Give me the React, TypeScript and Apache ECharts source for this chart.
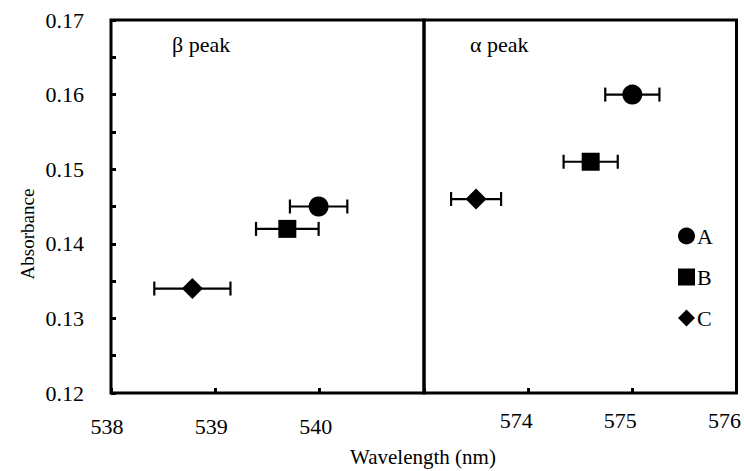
import React, { useEffect, useRef } from "react";
import * as echarts from "echarts";

const seriesNames = ["A", "B", "C"];
const seriesSymbols = ["circle", "rect", "diamond"];
const symbolSizes = [20, 18, 21];

const betaWavelength = [539.99, 539.69, 538.78];
const betaAbsorbance = [0.145, 0.142, 0.134];
const betaError = [0.275, 0.3, 0.365];

const alphaWavelength = [575.0, 574.6, 573.5];
const alphaAbsorbance = [0.16, 0.151, 0.146];
const alphaError = [0.26, 0.26, 0.24];

const leftTicks = [538, 539, 540];
const rightTicks = [574, 575, 576];

const FONT = "Liberation Serif";

export default function App() {
  const ref = useRef<HTMLDivElement>(null);

  useEffect(() => {
    document.body.style.margin = "0";
    document.body.style.overflow = "hidden";
    document.documentElement.style.overflow = "hidden";
    const chart = echarts.init(ref.current!, null, { renderer: "svg" });

    const errRender = (params: any, api: any) => {
      const x = api.value(0);
      const y = api.value(1);
      const e = api.value(2);
      const p1 = api.coord([x - e, y]);
      const p2 = api.coord([x + e, y]);
      const h = 7;
      const style = { stroke: "#000", lineWidth: 2.2, fill: "none" };
      return {
        type: "group",
        children: [
          { type: "line", shape: { x1: p1[0], y1: p1[1], x2: p2[0], y2: p2[1] }, style },
          { type: "line", shape: { x1: p1[0], y1: p1[1] - h, x2: p1[0], y2: p1[1] + h }, style },
          { type: "line", shape: { x1: p2[0], y1: p2[1] - h, x2: p2[0], y2: p2[1] + h }, style },
        ],
      };
    };

    const series: any[] = [];
    series.push({
      type: "custom",
      xAxisIndex: 0,
      yAxisIndex: 0,
      renderItem: errRender,
      encode: { x: 0, y: 1 },
      data: betaWavelength.map((w, i) => [w, betaAbsorbance[i], betaError[i]]),
      z: 1,
      silent: true,
    });
    series.push({
      type: "custom",
      xAxisIndex: 1,
      yAxisIndex: 1,
      renderItem: errRender,
      encode: { x: 0, y: 1 },
      data: alphaWavelength.map((w, i) => [w, alphaAbsorbance[i], alphaError[i]]),
      z: 1,
      silent: true,
    });
    seriesNames.forEach((name, i) => {
      const common = {
        name,
        type: "scatter",
        symbol: seriesSymbols[i],
        symbolSize: symbolSizes[i],
        itemStyle: { color: "#000", opacity: 1 },
        emphasis: { disabled: true },
        z: 3,
      };
      series.push({ ...common, xAxisIndex: 0, yAxisIndex: 0, data: [[betaWavelength[i], betaAbsorbance[i]]] });
      series.push({ ...common, xAxisIndex: 1, yAxisIndex: 1, data: [[alphaWavelength[i], alphaAbsorbance[i]]] });
    });

    const yAxisBase = {
      type: "value",
      min: 0.12,
      max: 0.17,
      interval: 0.01,
      splitLine: { show: false },
      axisLine: { show: false },
    };

    const tickStyle = { show: true, inside: true, length: 5, lineStyle: { color: "#000", width: 3 } };

    chart.setOption({
      animation: false,
      backgroundColor: "#fff",
      textStyle: { fontFamily: FONT, color: "#000" },
      grid: [
        { left: 111, top: 20, width: 313, height: 373, show: true, borderColor: "#000", borderWidth: 3, backgroundColor: "transparent" },
        { left: 424, top: 20, width: 313, height: 373, show: true, borderColor: "#000", borderWidth: 3, backgroundColor: "transparent" },
      ],
      xAxis: [
        {
          type: "value",
          gridIndex: 0,
          min: 538,
          max: 541,
          interval: 1,
          splitLine: { show: false },
          axisLine: { show: false },
          axisTick: tickStyle,
          axisLabel: {
            fontSize: 22,
            fontFamily: FONT,
            color: "#000",
            margin: 22,
            padding: [0, 8, 0, 0],
            formatter: (v: number) => (leftTicks.indexOf(v) >= 0 ? String(v) : ""),
          },
        },
        {
          type: "value",
          gridIndex: 1,
          min: 573,
          max: 576,
          interval: 1,
          splitLine: { show: false },
          axisLine: { show: false },
          axisTick: tickStyle,
          axisLabel: {
            fontSize: 22,
            fontFamily: FONT,
            color: "#000",
            margin: 16,
            padding: [0, 24, 0, 0],
            formatter: (v: number) => (rightTicks.indexOf(v) >= 0 ? String(v) : ""),
          },
        },
      ],
      yAxis: [
        {
          ...yAxisBase,
          gridIndex: 0,
          axisTick: tickStyle,
          minorTick: { show: true, splitNumber: 2, length: 5, lineStyle: { color: "#000", width: 3 } },
          axisLabel: {
            fontSize: 22,
            fontFamily: FONT,
            color: "#000",
            margin: 27,
            formatter: (v: number) => v.toFixed(2),
          },
        },
        {
          ...yAxisBase,
          gridIndex: 1,
          axisTick: { show: false },
          axisLabel: { show: false },
        },
      ],
      legend: {
        orient: "vertical",
        left: 673,
        top: 220,
        itemWidth: 17,
        itemHeight: 17,
        itemGap: 19,
        textStyle: { fontFamily: FONT, fontSize: 22, color: "#000", padding: [0, 0, 0, -3] },
        itemStyle: { opacity: 1, color: "#000" },
        data: seriesNames.map((n, i) => ({ name: n, icon: seriesSymbols[i] })),
        selectedMode: false,
      },
      graphic: [
        { type: "text", x: 172, y: 33, style: { text: "β peak", fontSize: 22, fontFamily: FONT, fill: "#000" } },
        { type: "text", x: 470, y: 33, style: { text: "α peak", fontSize: 22, fontFamily: FONT, fill: "#000" } },
        {
          type: "text",
          x: 27,
          y: 234,
          rotation: Math.PI / 2,
          style: { text: "Absorbance", fontSize: 19, fontFamily: FONT, fill: "#000", align: "center", verticalAlign: "middle" },
        },
        {
          type: "text",
          x: 423,
          y: 457,
          style: { text: "Wavelength (nm)", fontSize: 21, fontFamily: FONT, fill: "#000", align: "center", verticalAlign: "middle" },
        },
      ],
      series,
    });

    return () => chart.dispose();
  }, []);

  return <div ref={ref} style={{ width: 744, height: 471, position: "absolute", left: 0, top: 0 }} />;
}
